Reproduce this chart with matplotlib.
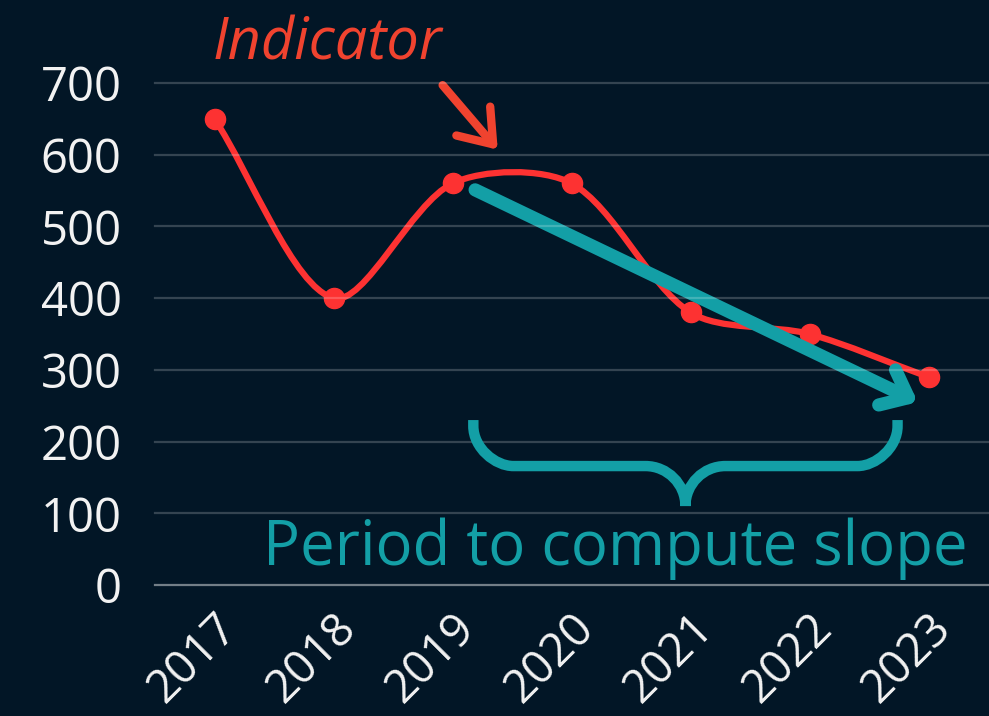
import numpy as np
import matplotlib
matplotlib.use("Agg")
from matplotlib import pyplot as plt
from matplotlib.path import Path
from matplotlib.patches import PathPatch, FancyArrowPatch
from matplotlib.transforms import IdentityTransform, ScaledTranslation

years = ['2017', '2018', '2019', '2020', '2021', '2022', '2023']
values = [650, 400, 560, 560, 380, 350, 290]
y_ticks = [0, 100, 200, 300, 400, 500, 600, 700]

# slope period (in year index units) and annotation anchors
slope_start = (2.19, 551)
slope_end = (5.91, 255)
brace_span = (2.175, 5.74)
brace_top = 230

BG = '#021626'
RED = '#fd3232'
ORANGE = '#f0432f'
TEAL = '#139fa6'

plt.rcParams['font.family'] = ['Open Sans', 'DejaVu Sans']

fig = plt.figure(figsize=(9.89, 7.16), dpi=100, facecolor=BG)
ax = fig.add_axes([155 / 989, 131 / 716, 833 / 989, 502 / 716])
ax.set_facecolor(BG)
x = np.arange(len(years))
ax.set_xlim(-0.5, 6.5)
ax.set_ylim(0, 700)
for s in ax.spines.values():
    s.set_visible(False)

# grid sits on top of the data, faint
for t in y_ticks:
    ax.axhline(t, color='white', alpha=0.45 if t == 0 else 0.2, lw=1.6,
               zorder=7, clip_on=False)

ax.set_yticks(y_ticks)
ax.set_yticklabels([str(t) for t in y_ticks], fontsize=34, color='#f2f2f2')
ax.set_xticks(x)
ax.set_xticklabels(years, fontsize=33, color='#f2f2f2', rotation=45,
                   ha='right', rotation_mode='anchor', va='center')
ax.tick_params(length=0)
ax.tick_params(axis='y', pad=24)
ax.tick_params(axis='x', pad=30)
shift = ScaledTranslation(0.16, 0.05, fig.dpi_scale_trans)
for lab in ax.get_xticklabels():
    lab.set_transform(lab.get_transform() + shift)


def spline_path(xs, ys, tension=0.3):
    # chart.js style bezier control points, computed in pixel space
    pts = ax.transData.transform(np.column_stack([xs, ys]))
    n = len(pts)
    prev_cp, next_cp = [], []
    for i in range(n):
        p0 = pts[max(i - 1, 0)]
        p1 = pts[i]
        p2 = pts[min(i + 1, n - 1)]
        d01 = np.hypot(*(p1 - p0))
        d12 = np.hypot(*(p2 - p1))
        tot = d01 + d12
        s01 = d01 / tot if tot else 0
        s12 = d12 / tot if tot else 0
        prev_cp.append(p1 - tension * s01 * (p2 - p0))
        next_cp.append(p1 + tension * s12 * (p2 - p0))
    verts = [pts[0]]
    codes = [Path.MOVETO]
    for i in range(n - 1):
        verts += [next_cp[i], prev_cp[i + 1], pts[i + 1]]
        codes += [Path.CURVE4] * 3
    verts = ax.transData.inverted().transform(np.array(verts))
    return Path(verts, codes)


ax.add_patch(PathPatch(spline_path(x, values), fill=False, edgecolor=RED,
                       lw=4.5, zorder=3, capstyle='round'))
ax.plot(x, values, 'o', color=RED, ms=14.5, zorder=4)

# slope arrow
ax.add_patch(FancyArrowPatch(slope_start, slope_end,
                             arrowstyle='->,head_length=0.85,head_width=0.7',
                             mutation_scale=20, color=TEAL, lw=9.5,
                             capstyle='round', joinstyle='round',
                             shrinkA=0, shrinkB=0, zorder=5))

# curly brace under the period, built in pixel space
(lx, ty), (rx, _) = ax.transData.transform([(brace_span[0], brace_top),
                                            (brace_span[1], brace_top)])
cx = (lx + rx) / 2
depth, r, stem = 46, 40, 40
hy = ty - depth
verts, codes = [], []
for sx, sgn in ((lx, 1), (rx, -1)):
    verts += [(sx, ty), (sx, hy + r),
              (sx, hy + r * 0.45), (sx + sgn * r * 0.55, hy), (sx + sgn * r, hy),
              (cx - sgn * r, hy),
              (cx - sgn * r * 0.45, hy), (cx, hy - r * 0.45), (cx, hy - r),
              (cx, hy - stem)]
    codes += [Path.MOVETO, Path.LINETO,
              Path.CURVE4, Path.CURVE4, Path.CURVE4,
              Path.LINETO,
              Path.CURVE4, Path.CURVE4, Path.CURVE4,
              Path.LINETO]
fig.patches.append(PathPatch(Path(verts, codes), fill=False, edgecolor=TEAL,
                             lw=7.5, transform=IdentityTransform(), zorder=5,
                             figure=fig))

ax.text(0.405, 28, 'Period to compute slope', color=TEAL, fontsize=44.5,
        ha='left', va='baseline', zorder=6, clip_on=False)

# indicator label and arrow
ax.text(0.95, 733, 'Indicator', color=ORANGE, fontsize=41.5, style='italic',
        ha='center', va='baseline', clip_on=False)
ax.add_patch(FancyArrowPatch((1.917, 697), (2.38, 607),
                             arrowstyle='->,head_length=1.1,head_width=0.8',
                             mutation_scale=20, color=ORANGE, lw=6,
                             capstyle='round', joinstyle='round',
                             shrinkA=0, shrinkB=0, zorder=5, clip_on=False))

fig.savefig('out.png', dpi=100, facecolor=BG)
